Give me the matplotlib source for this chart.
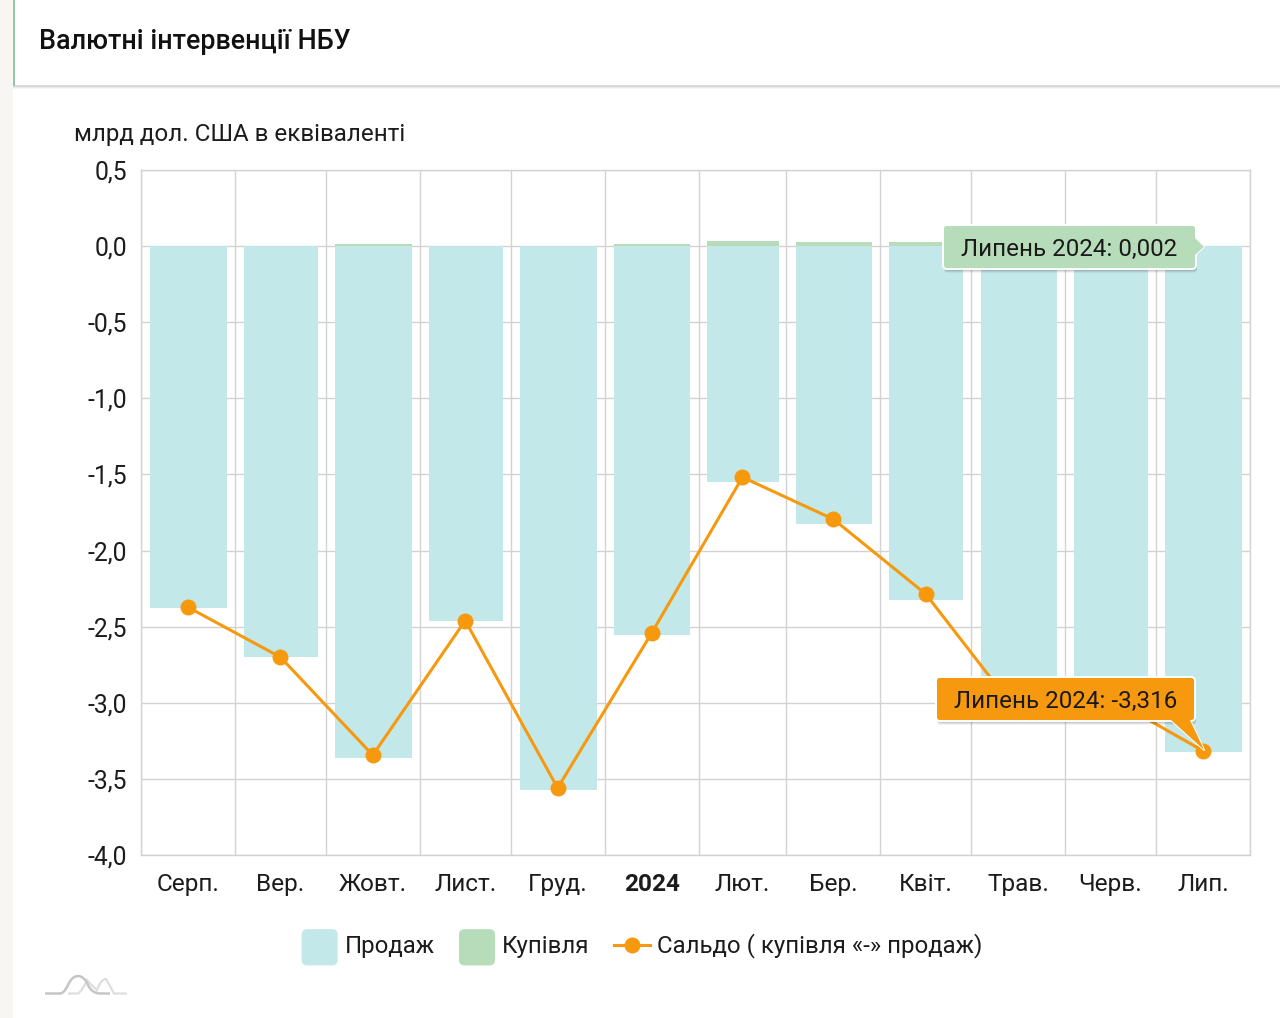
import matplotlib
matplotlib.use("Agg")
import matplotlib.pyplot as plt
import matplotlib.dates as mdates
from matplotlib.patches import FancyBboxPatch, Polygon, Rectangle, PathPatch, Patch
from matplotlib.path import Path
from matplotlib.lines import Line2D
from matplotlib.legend_handler import HandlerPatch
from datetime import date

plt.rcParams['font.family'] = ['Roboto', 'DejaVu Sans']

# ---- data ----
month_starts = [date(2023, 8, 1), date(2023, 9, 1), date(2023, 10, 1), date(2023, 11, 1),
                date(2023, 12, 1), date(2024, 1, 1), date(2024, 2, 1), date(2024, 3, 1),
                date(2024, 4, 1), date(2024, 5, 1), date(2024, 6, 1), date(2024, 7, 1),
                date(2024, 8, 1)]
month_labels = ['Серп.', 'Вер.', 'Жовт.', 'Лист.', 'Груд.', '2024', 'Лют.', 'Бер.',
                'Квіт.', 'Трав.', 'Черв.', 'Лип.']
sales = [-2.38, -2.702, -3.36, -2.466, -3.57, -2.558, -1.552, -1.828, -2.328, -3.09, -2.99, -3.325]
purchases = [0.003, 0.002, 0.012, 0.003, 0.003, 0.013, 0.033, 0.024, 0.03, 0.002, 0.002, 0.002]
balance = [-2.372, -2.70, -3.344, -2.46, -3.56, -2.543, -1.518, -1.794, -2.286, -3.07, -2.97, -3.316]
y_ticks = [0.5, 0.0, -0.5, -1.0, -1.5, -2.0, -2.5, -3.0, -3.5, -4.0]
title = 'Валютні інтервенції НБУ'
unit_label = 'млрд дол. США в еквіваленті'
series_names = ['Продаж', 'Купівля', 'Сальдо ( купівля «-» продаж)']
tip_buy = 'Липень 2024: 0,002'
tip_bal = 'Липень 2024: -3,316'

# ---- style ----
W, H = 1280, 1018
C_SELL, C_BUY, C_BAL = '#c3e8ea', '#b7dcb9', '#f7990f'
C_GRID = '#d2d2d2'
C_TEXT = '#1c1c1c'

fig = plt.figure(figsize=(W / 100, H / 100), dpi=100, facecolor='white')

# page chrome in pixel coordinates
bg = fig.add_axes([0, 0, 1, 1], zorder=0)
bg.set_xlim(0, W); bg.set_ylim(H, 0); bg.axis('off')
bg.add_patch(Rectangle((0, 0), 13, H, color='#f7f6f3', lw=0))
for i, a in enumerate([0.03, 0.05, 0.07]):
    bg.add_patch(Rectangle((13, 85), W, 4 - i, color='black', alpha=a, lw=0))
bg.add_patch(Rectangle((12.5, 0), 2, 86, color='#8fc9aa', lw=0))
bg.text(39, 41, title, fontsize=19.4, fontweight='medium', color='#111111', va='center', ha='left')
bg.text(74, 134, unit_label, fontsize=17.4, color=C_TEXT, va='center', ha='left')

# logo
logo1 = Path([(45, 993.5), (60, 993.5), (64, 993.5), (68, 985), (72, 976), (78, 976), (84, 976), (88, 985), (92, 993.5), (100, 993.5), (110, 993.5)],
             [Path.MOVETO, Path.LINETO, Path.CURVE3, Path.CURVE3, Path.CURVE3, Path.CURVE3, Path.CURVE3, Path.CURVE3, Path.CURVE3, Path.CURVE3, Path.LINETO])
logo2 = Path([(68, 993.5), (78, 993.5), (83, 990), (87, 980), (92, 986), (97, 990), (101, 979), (106, 979), (110, 986), (114, 993.5), (127, 993.5)],
             [Path.MOVETO, Path.LINETO, Path.CURVE3, Path.CURVE3, Path.CURVE3, Path.CURVE3, Path.CURVE3, Path.CURVE3, Path.CURVE3, Path.CURVE3, Path.LINETO])
bg.add_patch(PathPatch(logo2, fc='none', ec='#dddddd', lw=1.6))
bg.add_patch(PathPatch(logo1, fc='none', ec='#c6c6c6', lw=1.8))

# main chart
ax = fig.add_axes([141 / W, 1 - 855 / H, 1109 / W, 685 / H], zorder=1)
ax.patch.set_alpha(0)
edges = mdates.date2num(month_starts)
days = edges[1:] - edges[:-1]
centers = (edges[1:] + edges[:-1]) / 2
widths = days * 0.815

ax.bar(centers + 0.2, sales, width=widths, color=C_SELL, zorder=2, label=series_names[0])
ax.bar(centers + 0.2, purchases, width=widths, color=C_BUY, zorder=2, label=series_names[1])
ax.plot(centers, balance, color=C_BAL, lw=2.2, marker='o', ms=11.5, mew=0, zorder=4, label=series_names[2])

ax.set_xlim(edges[0], edges[-1])
ax.set_ylim(-4.0, 0.5)
ax.set_yticks(y_ticks)
ax.set_yticklabels([f'{v:.1f}'.replace('.', ',') for v in y_ticks], fontsize=17.8, color=C_TEXT)
ax.set_xticks(edges, minor=True)
ax.set_xticks(centers)
ax.set_xticklabels(month_labels, fontsize=17.6, color=C_TEXT)
ax.get_xticklabels()[5].set_fontweight('bold')
ax.tick_params(axis='x', which='major', length=0, pad=13)
ax.tick_params(axis='x', which='minor', length=0)
ax.tick_params(axis='y', length=0, pad=10)
ax.set_axisbelow(True)
ax.grid(axis='y', which='major', color=C_GRID, lw=1.0, zorder=1)
ax.grid(axis='x', which='minor', color=C_GRID, lw=1.0, zorder=1)
for s in ax.spines.values():
    s.set_color(C_GRID); s.set_linewidth(1.0)


# legend
class RoundHandler(HandlerPatch):
    def create_artists(self, legend, orig, xd, yd, w, h, fs, trans):
        p = FancyBboxPatch((xd + 2, yd - 7), w - 4, h + 10, boxstyle='round,pad=2,rounding_size=4',
                           fc=orig.get_facecolor(), ec='none', transform=trans)
        return [p]


handles = [Patch(facecolor=C_SELL), Patch(facecolor=C_BUY),
           Line2D([], [], color=C_BAL, lw=2.2, marker='o', ms=11.5, mew=0)]
fig.legend(handles, series_names, loc='center', bbox_to_anchor=(642 / W, 1 - 946 / H), ncol=3,
           frameon=False, fontsize=17.3, handlelength=1.5, handletextpad=0.3, columnspacing=1.0,
           labelcolor=C_TEXT, handler_map={Patch: RoundHandler()})

# tooltips
ov = fig.add_axes([0, 0, 1, 1], zorder=5)
ov.set_xlim(0, W); ov.set_ylim(H, 0); ov.axis('off')
fig.canvas.draw()


def to_px(x, y):
    d = ax.transData.transform((x, y))
    return d[0], H - d[1]


def tooltip(box, tip_pts, color, text):
    x0, y0, x1, y1 = box
    for off, a in [(4, 0.05), (3, 0.07), (2, 0.09)]:
        ov.add_patch(FancyBboxPatch((x0 + 1, y0 + off), x1 - x0, y1 - y0, boxstyle='round,pad=0,rounding_size=4',
                                    fc='black', ec='none', alpha=a, zorder=1))
    ov.add_patch(Polygon(tip_pts, closed=True, fc=color, ec='white', lw=1.4, zorder=2, joinstyle='round'))
    ov.add_patch(FancyBboxPatch((x0, y0), x1 - x0, y1 - y0, boxstyle='round,pad=0,rounding_size=4',
                                fc=color, ec='white', lw=1.4, zorder=3))
    ov.add_patch(Polygon(tip_pts, closed=True, fc=color, ec='none', zorder=4))
    ov.text((x0 + x1) / 2, (y0 + y1) / 2 + 2, text, fontsize=17.4, color='#1a1a1a',
            ha='center', va='center', zorder=5)


bx, by = to_px(centers[-1], purchases[-1])
tooltip((943, 225, 1196, 269), [(1195, 238), (1204, by + 1), (1195, 255)], C_BUY, tip_buy)
px, py = to_px(centers[-1], balance[-1])
tooltip((936, 677, 1195, 721), [(1171, 720), (px + 1, py - 1), (1190, 720)], C_BAL, tip_bal)

fig.savefig('out.png', dpi=100, facecolor='white')
